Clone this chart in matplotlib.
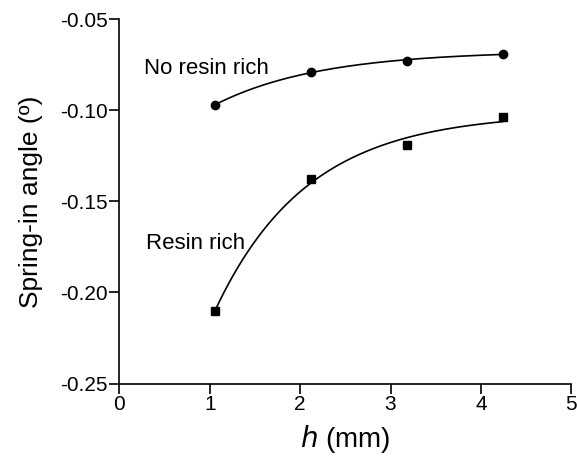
import numpy as np
import matplotlib.pyplot as plt

plt.rcParams['font.family'] = ['Liberation Sans', 'DejaVu Sans']

h = [1.06, 2.12, 3.18, 4.24]
no_resin_rich = [-0.097, -0.079, -0.073, -0.069]
resin_rich = [-0.210, -0.138, -0.119, -0.104]
xticks = [0, 1, 2, 3, 4, 5]
yticks = [-0.25, -0.20, -0.15, -0.10, -0.05]


def exp_fit(x, y):
    # y = a + b*exp(-c*x), grid search over c, least squares for a, b
    x = np.asarray(x)
    y = np.asarray(y)
    best = None
    for c in np.linspace(0.05, 3, 600):
        A = np.column_stack([np.ones_like(x), np.exp(-c * x)])
        coef, res, _, _ = np.linalg.lstsq(A, y, rcond=None)
        err = np.sum((A @ coef - y) ** 2)
        if best is None or err < best[0]:
            best = (err, coef[0], coef[1], c)
    _, a, b, c = best
    return lambda t: a + b * np.exp(-c * t)


fig = plt.figure(figsize=(5.77, 4.65), dpi=100)
ax = fig.add_axes([0.207, 0.175, 0.783, 0.784])

xs = np.linspace(h[0], h[-1], 200)
ax.plot(xs, exp_fit(h, no_resin_rich)(xs), color='black', lw=1.2)
ax.plot(xs, exp_fit(h, resin_rich)(xs), color='black', lw=1.2)
ax.plot(h, no_resin_rich, 'o', color='black', ms=6)
ax.plot(h, resin_rich, 's', color='black', ms=5.5)

ax.text(0.96, -0.077, 'No resin rich', ha='center', va='center', fontsize=16)
ax.text(0.84, -0.173, 'Resin rich', ha='center', va='center', fontsize=16)

ax.set_xlim(0, 5)
ax.set_ylim(-0.25, -0.05)
ax.set_xticks(xticks)
ax.set_yticks(yticks)
ax.set_yticklabels(['%.2f' % v for v in yticks])
ax.tick_params(labelsize=15, length=7, width=1.2, direction='out', pad=1.5)
for s in ['top', 'right']:
    ax.spines[s].set_visible(False)
for s in ['left', 'bottom']:
    ax.spines[s].set_linewidth(1.2)

ax.set_xlabel(r'$\it{h}$ (mm)', fontsize=20, labelpad=6)
ax.set_ylabel('Spring-in angle (º)', fontsize=19, labelpad=12)

fig.savefig('out.png', dpi=100)
